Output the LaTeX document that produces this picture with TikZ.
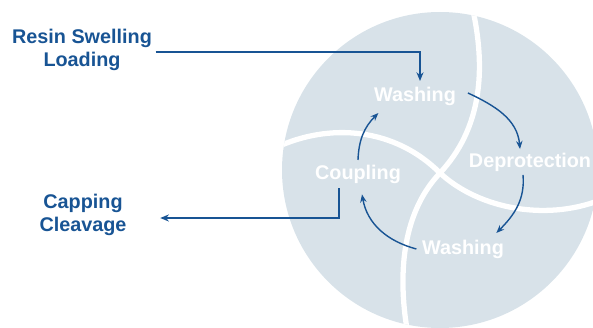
\documentclass[tikz,border=0pt]{standalone}
\usepackage{fontspec}
\setmainfont{Liberation Sans}
\usepackage{xcolor}
\usetikzlibrary{arrows.meta}
\definecolor{spblue}{RGB}{24,84,148}
\definecolor{spdisc}{RGB}{216,226,233}
\tikzset{
  side/.style={text=spblue, align=center, inner sep=3pt,
               font=\fontsize{16.9}{19.7}\selectfont\bfseries},
  stage/.style={text=white, inner sep=3pt,
                font=\fontsize{16.9}{19.7}\selectfont\bfseries},
  feed/.style={-{Stealth[length=2.6mm,width=2.1mm]}, line width=1.7pt, color=spblue},
  cyc/.style={-{Stealth[length=2.4mm,width=1.9mm]}, line width=1.2pt, color=spblue},
  split/.style={white, line width=4.5pt},
}
\begin{document}
\begin{tikzpicture}
\useasboundingbox (0,0) rectangle (17.79,9.81);
% resin bead
\fill[spdisc] (13.2,4.71) circle (4.74);
\begin{scope}
  \clip (13.2,4.71) circle (4.74);
  \draw[split] (14.04,10.11) .. controls (14.7,7.71) and (14.4,5.91) .. (13.2,4.62)
    .. controls (12.0,3.36) and (11.94,1.41) .. (12.24,-0.24);
  \draw[split] (8.25,5.37) .. controls (9.9,6.15) and (11.85,5.97) .. (13.2,4.62)
    .. controls (14.4,3.51) and (16.5,3.15) .. (18.15,3.87);
\end{scope}
% stages
\node[stage] (wash1) at (12.45,6.93) {Washing};
\node[stage] (deprot) at (15.9,4.95) {Deprotection};
\node[stage] (wash2) at (13.89,2.34) {Washing};
\node[stage] (coupl) at (10.74,4.59) {Coupling};
\node[side] (swell) at (2.46,8.3) {Resin Swelling\\Loading};
\node[side] (cap) at (2.49,3.36) {Capping\\Cleavage};
% in and out
\draw[feed] ([yshift=-0.05cm]swell.east) -| ([xshift=0.15cm,yshift=0.06cm]wash1.north);
\draw[feed, shorten >=0.9cm] ([xshift=-0.57cm,yshift=-0.03cm]coupl.south)
  |- ([yshift=-0.09cm]cap.east);
% cycle
\draw[cyc] ([xshift=0.25cm,yshift=0.09cm]wash1.east) to[out=-25,in=95]
  ([xshift=-0.3cm]deprot.north);
\draw[cyc] ([xshift=-0.21cm]deprot.south) to[out=-85,in=45]
  ([xshift=1.0cm,yshift=0.09cm]wash2.north);
\draw[cyc] ([xshift=-0.06cm]wash2.west) to[out=165,in=-80]
  ([xshift=0.12cm,yshift=-0.22cm]coupl.south);
\draw[cyc] ([yshift=0.03cm]coupl.north) to[out=88,in=-135]
  ([xshift=0.24cm,yshift=-0.12cm]wash1.south west);
\end{tikzpicture}
\end{document}
